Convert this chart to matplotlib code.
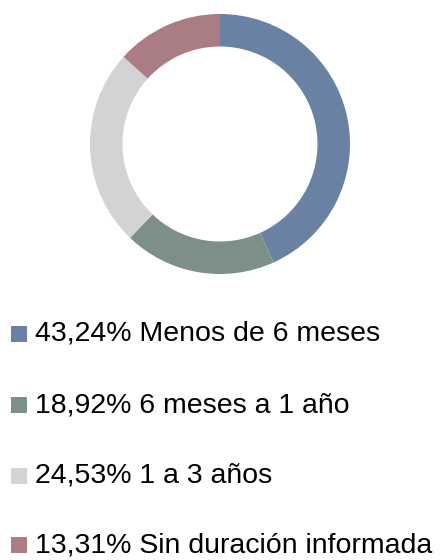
import matplotlib.pyplot as plt
from matplotlib.patches import Rectangle

labels = ["Menos de 6 meses", "6 meses a 1 año", "1 a 3 años", "Sin duración informada"]
values = [43.24, 18.92, 24.53, 13.31]
colors = ["#6981A3", "#7C9088", "#D3D3D5", "#A97D81"]

W, H = 445, 560
fig = plt.figure(figsize=(W / 100, H / 100), dpi=100)
plt.rcParams["font.family"] = ["Liberation Sans", "DejaVu Sans"]

# donut: centre (220,144) px, outer radius 130 px
cx, cy, r = 220, 144, 130
ax = fig.add_axes([(cx - r) / W, (H - cy - r) / H, 2 * r / W, 2 * r / H])
ax.pie(values, colors=colors, startangle=90, counterclock=False, radius=1,
       wedgeprops=dict(width=0.25, linewidth=0))
ax.set_xlim(-1, 1)
ax.set_ylim(-1, 1)
ax.set_aspect("equal")
ax.axis("off")

# legend rows
row_y = [334, 405, 476, 545]
for y, lab, val, col in zip(row_y, labels, values, colors):
    fig.patches.append(Rectangle((11 / W, (H - y - 8) / H), 16 / W, 16 / H,
                                 transform=fig.transFigure, color=col, lw=0))
    txt = ("%.2f%% " % val).replace(".", ",") + lab
    fig.text(35 / W, (H - y) / H, txt, fontsize=20.5, va="center", ha="left",
             color="#000000")

fig.savefig("out.png", dpi=100)
